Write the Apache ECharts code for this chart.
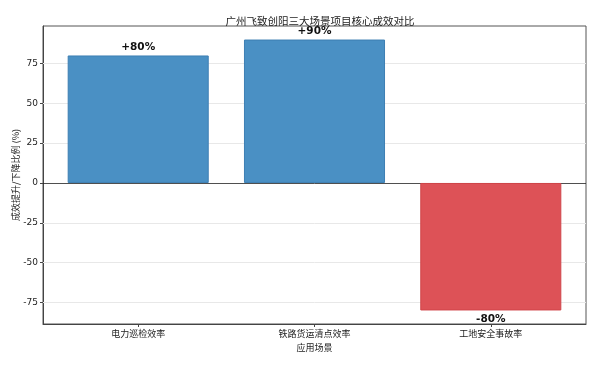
<!DOCTYPE html>
<html><head><meta charset="utf-8">
<script src="https://cdn.jsdelivr.net/npm/echarts@6/dist/echarts.min.js"></script>
<style>html,body{margin:0;padding:0;background:#fff}#c{width:600px;height:387px}</style>
</head><body><div id="c"></div>
<script>
var categories = ['电力巡检效率', '铁路货运清点效率', '工地安全事故率'];
var values = [80, 90, -80];
var valueLabels = ['+80%', '+90%', '-80%'];
var yTicks = [-75, -50, -25, 0, 25, 50, 75];
var barColors = ['#4A90C4', '#4A90C4', '#DD5257'];
var edgeColors = ['#3D7FB3', '#3D7FB3', '#D0454A'];

var catIndex = categories.map(function (c, i) { return i; });
var chart = echarts.init(document.getElementById('c'), null, {renderer: 'canvas'});
var font = '"Noto Sans CJK SC", "DejaVu Sans", sans-serif';
var gridLines = yTicks.filter(function (t) { return t !== 0; }).map(function (t) {
  return {yAxis: t, lineStyle: {color: '#e8e8e8', width: 1, type: 'solid'}};
});
gridLines.push({yAxis: 0, lineStyle: {color: '#222', width: 0.8, type: 'solid'}});
chart.setOption({
  animation: false,
  backgroundColor: '#fff',
  title: {
    text: '广州飞致创阳三大场景项目核心成效对比',
    left: 315, top: 11, textAlign: 'center',
    textStyle: {fontSize: 10.5, fontWeight: 'normal', color: '#222', fontFamily: font}
  },
  grid: {left: 43, right: 14, top: 26, bottom: 63, show: true, borderColor: '#555', borderWidth: 1,
    containLabel: false, outerBoundsMode: 'none'},
  xAxis: {
    type: 'value', min: -0.54, max: 2.54,
    name: '应用场景', nameLocation: 'middle', nameGap: 19, nameMoveOverlap: false,
    nameTextStyle: {fontSize: 9, color: '#222', fontFamily: font},
    axisLine: {onZero: false, lineStyle: {color: '#444'}},
    axisTick: {show: true, length: 3, lineStyle: {color: '#444'}, customValues: catIndex},
    axisLabel: {fontSize: 9, color: '#222', margin: 5, fontFamily: font, customValues: catIndex,
      formatter: function (v) { return categories[Math.round(v)] || ''; }},
    splitLine: {show: false}
  },
  yAxis: {
    type: 'value', min: -88.5, max: 98.5,
    name: '成效提升/下降比例 (%)', nameLocation: 'middle', nameGap: 23, nameMoveOverlap: false,
    nameTextStyle: {fontSize: 9, color: '#222', fontFamily: font},
    axisLine: {show: true, onZero: false, lineStyle: {color: '#444'}},
    axisTick: {show: true, length: 3, lineStyle: {color: '#444'}, customValues: yTicks},
    axisLabel: {fontSize: 9, color: '#222', margin: 5, fontFamily: '"DejaVu Sans", sans-serif', customValues: yTicks},
    splitLine: {show: false}
  },
  series: [{
    type: 'bar', barWidth: '80%', z: 3,
    data: values.map(function (v, i) {
      return {value: [catIndex[i], v], itemStyle: {color: barColors[i], borderColor: edgeColors[i], borderWidth: 1},
        label: {show: true, position: v >= 0 ? 'top' : 'bottom', formatter: valueLabels[i],
          fontSize: 10.5, fontWeight: 'bold', color: '#111', distance: 3, fontFamily: '"DejaVu Sans", sans-serif'}};
    }),
    markLine: {
      silent: true, symbol: 'none', label: {show: false}, z: 1,
      data: gridLines
    }
  }]
});
</script></body></html>
